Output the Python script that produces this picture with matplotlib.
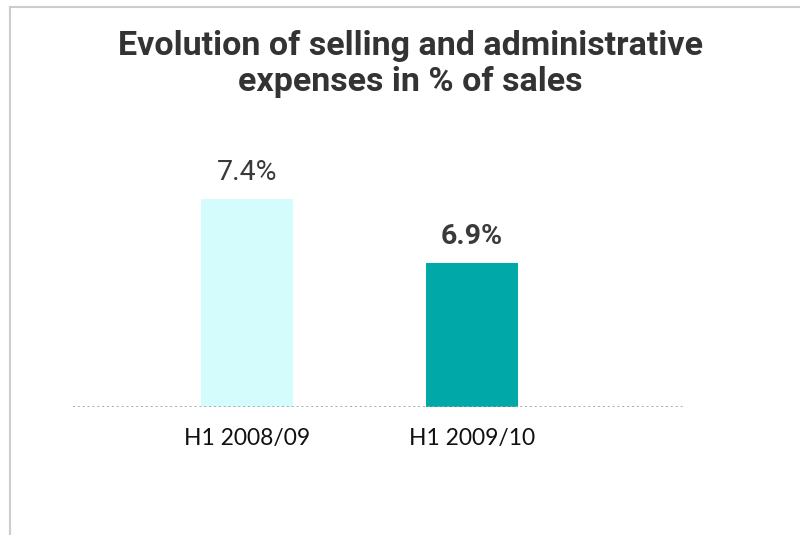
import matplotlib
matplotlib.use("Agg")
import matplotlib.pyplot as plt
from matplotlib.lines import Line2D

# Data
categories = ["H1 2008/09", "H1 2009/10"]
values = [7.4, 6.9]
value_labels = ["7.4%", "6.9%"]
bar_colors = ["#d4fcfc", "#00a9a8"]
label_weights = ["normal", "bold"]
title = "Evolution of selling and administrative\nexpenses in % of sales"

W, H = 800, 535
fig = plt.figure(figsize=(W / 100, H / 100), dpi=100)

# Value axis starts above zero; scale ~128 px per percentage point
y_min, y_max = 5.775, 8.0
px_per_unit = 128
base_px = 407
ax_h = (y_max - y_min) * px_per_unit
ax = fig.add_axes([73 / W, (H - base_px) / H, 610 / W, ax_h / H])

x = list(range(len(categories)))
ax.bar(x, [v - y_min for v in values], bottom=y_min, width=0.409,
       color=bar_colors, edgecolor="none")
ax.set_xlim(-0.773, 1.938)
ax.set_ylim(y_min, y_max)

for xi, v, lab, wt in zip(x, values, value_labels, label_weights):
    ax.annotate(lab, (xi, v), xytext=(0, 19), textcoords="offset points",
                ha="center", va="center", fontsize=20.5, fontweight=wt,
                color="#3a3a3a", family="Roboto")

ax.axhline(y_min, color="#a8a8a8", linestyle=(0, (1, 1.5)), linewidth=1.4)

for s in ax.spines.values():
    s.set_visible(False)
ax.set_yticks([])
ax.set_xticks(x)
ax.set_xticklabels(categories, fontsize=16.5, family="Lato", color="#111111")
ax.tick_params(axis="x", length=0, pad=15)

fig.text(0.513, 1 - 64 / H, title, ha="center", va="center", fontsize=24.5,
         fontweight="bold", color="#333333", family="Roboto",
         linespacing=1.12)

# Frame lines along the top and left edge
border = "#cccccc"
fig.add_artist(Line2D([10 / W, 1], [1 - 7 / H, 1 - 7 / H], color=border, lw=1.5,
                      transform=fig.transFigure))
fig.add_artist(Line2D([10 / W, 10 / W], [0, 1 - 7 / H], color=border, lw=1.5,
                      transform=fig.transFigure))

fig.savefig("out.png", dpi=100, facecolor="white")
